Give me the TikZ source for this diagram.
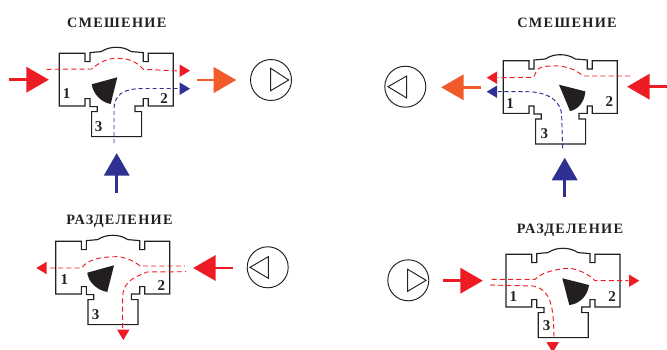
\documentclass[tikz,border=0pt]{standalone}
\usepackage{fontspec}
\setmainfont{Liberation Serif}
\definecolor{vred}{HTML}{ED1C24}
\definecolor{vblue}{HTML}{2E3192}
\definecolor{vorange}{HTML}{F15A29}
\definecolor{vink}{HTML}{231F20}
\newfontfamily\headfont[LetterSpace=9,Scale=1]{Liberation Serif Bold}
\tikzset{
  bodyline/.style={draw=vink,line width=1.15pt,line join=miter},
  wedgefill/.style={fill=vink,draw=none},
  num/.style={font=\fontsize{15}{15}\selectfont\bfseries,text=vink,inner sep=0pt},
  head/.style={font=\fontsize{14.3}{15}\headfont,text=vink,inner sep=0pt},
  flowr/.style={draw=vred,line width=0.95pt,dash pattern=on 5pt off 3.2pt},
  flowb/.style={draw=vblue,line width=0.95pt,dash pattern=on 4.2pt off 2.8pt},
  pumpc/.style={circle,draw=vink,line width=0.95pt,minimum size=41pt,inner sep=0pt},
  pumpt/.style={draw=vink,line width=0.95pt,line join=miter},
  valve/.pic={
    \draw[bodyline] (0,0) -- (25.7,0) -- (25.7,8.3) -- (30.7,8.3) -- (30.7,-0.7)
      -- (42,-1.7) .. controls (47,-5) and (52,-6) .. (57,-6)
      .. controls (62,-6) and (67,-5) .. (72,-1.7) -- (84,-0.7) -- (84,8.3) -- (89,8.3) -- (89,0)
      -- (114,0) -- (114,52.7) -- (89,52.7) -- (89,45.3) -- (84,45.3) -- (84,52.7) -- (75.7,52.7)
      -- (75.7,58.3) -- (82.3,58.3) -- (82.3,83.3) -- (32.3,83.3) -- (32.3,58.3) -- (38,58.3)
      -- (38,53.3) -- (30.7,53.3) -- (30.7,45.3) -- (25.7,45.3) -- (25.7,52.7) -- (0,52.7) -- cycle;
  }
}
\newcommand{\bigarrow}[4]{% x,y,angle,colour
  \begin{scope}[shift={(#1,#2)},rotate=#3]
    \fill[#4] (0,-1.3) rectangle (18,1.3);
    \fill[#4] (17,-13) -- (39.5,0) -- (17,13) -- cycle;
  \end{scope}}
\newcommand{\tinyarrow}[4]{% tip x,y,angle,colour
  \begin{scope}[shift={(#1,#2)},rotate=#3]
    \fill[#4] (-10.3,-6.2) -- (0,0) -- (-10.3,6.2) -- cycle;
  \end{scope}}
\begin{document}
\begin{tikzpicture}[x=1pt,y=-1pt]
\useasboundingbox (0,0) rectangle (667,349);
% headings
\node[head] (h1) at (116.7,23) {СМЕШЕНИЕ};
\node[head] (h2) at (567,23) {СМЕШЕНИЕ};
\node[head] (h3) at (119.5,221) {РАЗДЕЛЕНИЕ};
\node[head] (h4) at (570,230) {РАЗДЕЛЕНИЕ};
% valve bodies
\pic at (59.3,53.3) {valve};
\pic at (503.3,60.7) {valve};
\pic at (55.7,241.3) {valve};
\pic at (506,254.3) {valve};
% wedges
\fill[wedgefill] (117.3,77.3) -- (91.7,84.3) .. controls (93,93) and (100,102) .. (110.7,104) -- cycle;
\fill[wedgefill] (559,84.7) -- (585.3,91.4) .. controls (585,101) and (578,110) .. (570,111) -- cycle;
\fill[wedgefill] (114,265.3) -- (87.3,272.7) .. controls (88,281) and (96,290) .. (107.3,292) -- cycle;
\fill[wedgefill] (562.3,278.3) -- (589,285) .. controls (588,295) and (580,304) .. (569.3,305) -- cycle;
% numerals
\node[num] (a1) at (66.6,93.3) {1};
\node[num] (a2) at (164,98.3) {2};
\node[num] (a3) at (98.6,126.3) {3};
\node[num] (b1) at (510,103.4) {1};
\node[num] (b2) at (609.3,101.7) {2};
\node[num] (b3) at (544.3,133.7) {3};
\node[num] (c1) at (64.4,280) {1};
\node[num] (c2) at (161.4,285.3) {2};
\node[num] (c3) at (95.7,314.3) {3};
\node[num] (d1) at (513.3,296.6) {1};
\node[num] (d2) at (612,296.6) {2};
\node[num] (d3) at (546.7,326) {3};
% flows, top left
\draw[flowr] (46.7,69.3) -- (91.7,69) .. controls (100,61.7) and (108,58.3) .. (116.7,58.3)
  .. controls (128,58.3) and (136,61) .. (143.3,69.3) -- (180,71);
\draw[flowb] (114,143) -- (114,110) .. controls (114,94) and (124,88.5) .. (143.3,88.5) -- (179,88.5);
% flows, top right
\draw[flowr] (630,76) -- (583.3,76) .. controls (570,65) and (556.7,65) .. (543.3,66.7)
  .. controls (535,68) and (535,77.3) .. (533.3,77.3) -- (498,77.7);
\draw[flowb] (562.7,148.3) -- (561.7,116.7) .. controls (561.7,100) and (546.7,91.7) .. (526.7,91.7) -- (498,91.7);
% flows, bottom left
\draw[flowr] (50,268) -- (81.7,268) .. controls (86.7,260) and (100,256.7) .. (116.7,256.7)
  .. controls (130,257) and (140,266) .. (140,266) -- (185,266);
\draw[flowr] (122.7,328) -- (122.7,296.7) .. controls (123.3,278.3) and (140,276) .. (146.7,272) -- (186,271.7);
% flows, bottom right
\draw[flowr] (491.7,279.3) -- (535,279.3) .. controls (543.3,270) and (566.7,268.3) .. (566.7,268.3)
  .. controls (583.3,268.3) and (595,280.7) .. (595,280.7) -- (628.3,280.7);
\draw[flowr] (490,285) -- (533.3,286) .. controls (553.3,290) and (553.3,313.3) .. (554,336.7);
% large arrows
\bigarrow{9.3}{79.7}{0}{vred}
\bigarrow{196.7}{80}{0}{vorange}
\bigarrow{116.7}{192.7}{90}{vblue}
\bigarrow{480.7}{87.3}{180}{vorange}
\bigarrow{666.7}{86.7}{180}{vred}
\bigarrow{564.7}{197.3}{90}{vblue}
\bigarrow{232.7}{268}{180}{vred}
\bigarrow{443.3}{280.7}{0}{vred}
% small arrows
\tinyarrow{190}{70.7}{0}{vred}
\tinyarrow{190}{88.7}{0}{vblue}
\tinyarrow{486.7}{77.7}{180}{vred}
\tinyarrow{486.7}{91.7}{180}{vblue}
\tinyarrow{36.3}{268}{180}{vred}
\tinyarrow{123.3}{340}{-90}{vred}
\tinyarrow{639.3}{280.7}{0}{vred}
\tinyarrow{552.7}{352.5}{-90}{vred}
% pumps
\node[pumpc] (p1) at (271,80) {};
\draw[pumpt] (270.7,68.3) -- (288.7,80) -- (270.7,90.7) -- cycle;
\node[pumpc] (p2) at (405.3,86.7) {};
\draw[pumpt] (406.7,76) -- (388,86.7) -- (406.7,98) -- cycle;
\node[pumpc] (p3) at (267.7,267.3) {};
\draw[pumpt] (268.3,256.7) -- (250,267.3) -- (268.3,278.3) -- cycle;
\node[pumpc] (p4) at (408.3,280.3) {};
\draw[pumpt] (407.7,269.3) -- (426,280.3) -- (407.7,291.3) -- cycle;
\end{tikzpicture}
\end{document}
